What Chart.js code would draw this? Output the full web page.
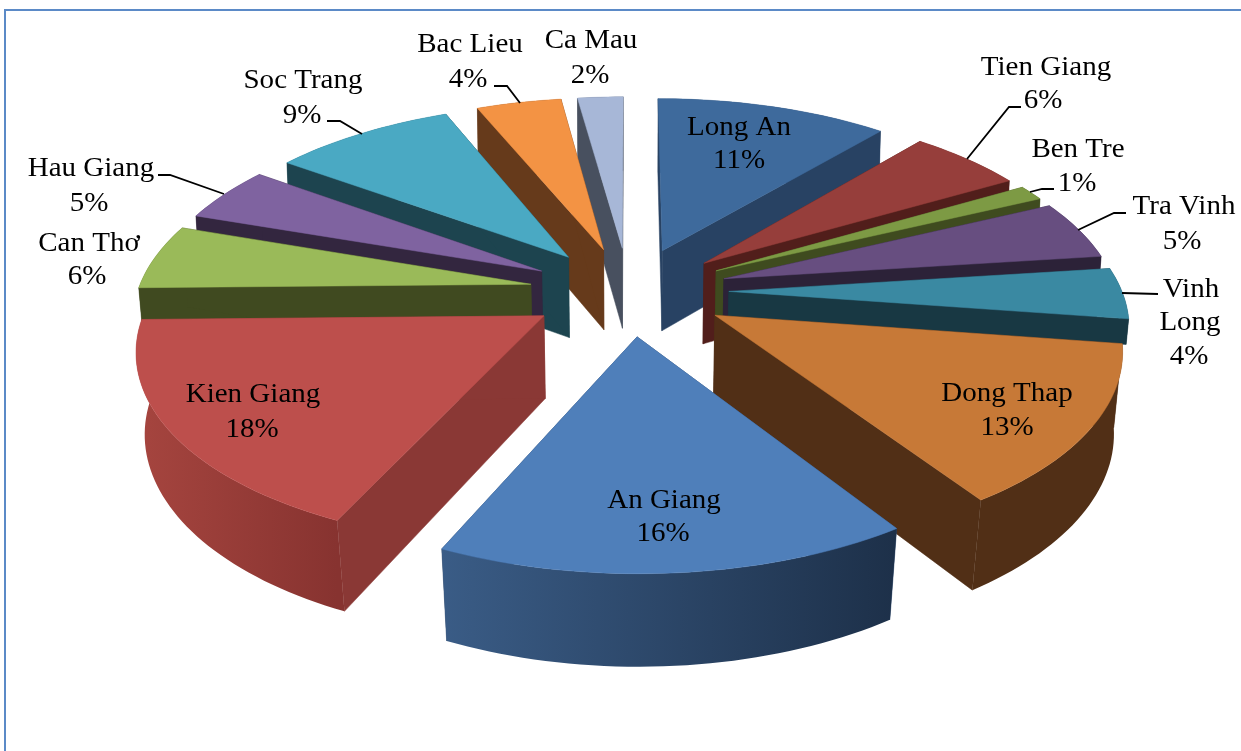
<!DOCTYPE html>
<html><head><meta charset="utf-8">
<style>html,body{margin:0;padding:0;background:#fff}canvas{display:block}</style>
<script src="https://cdn.jsdelivr.net/npm/chart.js@4"></script>
</head><body><canvas id="c" width="1241" height="751"></canvas>
<script>
const provinces = ['Long An','Tien Giang','Ben Tre','Tra Vinh','Vinh Long','Dong Thap','An Giang','Kien Giang','Can Thơ','Hau Giang','Soc Trang','Bac Lieu','Ca Mau'];
const shares = [11.2,5.5,1.3,5.0,4.3,13.4,16.1,17.9,5.5,4.7,8.8,4.1,2.2];

const topColors  = ['#3e6a9c','#963e3b','#7d9a44','#674e80','#3a89a2','#c77937','#4f7fba','#bd4f4c','#9aba59','#7f63a0','#4aa9c3','#f39344','#a7b7d7'];
const edgeColors = ['#284263','#511e1b','#3f4b1f','#2c2238','#183843','#512f16','#2a4468','#8a3835','#404a20','#33263f','#1d444f','#663a1b','#48505f'];
const rimLeft    = ['#284263','#511e1b','#3f4b1f','#2c2238','#183843','#512f16','#3a5c86','#a6453f','#404a20','#33263f','#1d444f','#663a1b','#48505f'];
const rimRight   = ['#284263','#511e1b','#3f4b1f','#2c2238','#183843','#512f16','#1d3049','#873330','#404a20','#33263f','#1d444f','#663a1b','#48505f'];
const wallScale  = [1,1,1,1,0.31,1,1,1,1,1,1,1,1];

// label text anchors: [text, centre x, baseline y] per line, and leader lines
const labelLines = [
  [['Long An',739,135],['%',739,168]],
  [['Tien Giang',1046,75],['%',1043,108]],
  [['Ben Tre',1078,157],['%',1077,191]],
  [['Tra Vinh',1184,214],['%',1182,249]],
  [['Vinh',1191,297],['Long',1190,330],['%',1189,364]],
  [['Dong Thap',1007,401],['%',1007,435]],
  [['An Giang',664,508],['%',663,541]],
  [['Kien Giang',253,402],['%',252,437]],
  [['Can Thơ',89,251],['%',87,284]],
  [['Hau Giang',91,176],['%',89,211]],
  [['Soc Trang',303,88],['%',302,123]],
  [['Bac Lieu',470,52],['%',468,87]],
  [['Ca Mau',591,48],['%',590,83]]
];
const leaders = [
  [[1021,107],[1009,107],[967,159]],
  [[1054,189],[1042,189],[1030,192]],
  [[1126,213],[1114,213],[1078,230]],
  [[1158,294],[1122,293]],
  [[158,175],[170,175],[224,194]],
  [[327,121],[340,121],[362,134]],
  [[494,86],[507,86],[520,103]]
];

// view of the pie plane
const VIEW = {sx:393/260, sy:186/260, persp:0.15, explodeX:1.065, shrinkMid:0.985, shrinkSlope:0.01/230, depth:81.7, depthSlope:0.04};

const pie3d = {
  id:'pie3d',
  beforeDatasetsDraw(chart){
    const ctx = chart.ctx;
    const arcs = chart.getDatasetMeta(0).data;
    const project = (arc,u,v)=>{
      const r = arc.outerRadius, s = 1/(1+VIEW.persp*v);
      return [arc.x + VIEW.sx*r*u*s, arc.y - VIEW.sy*r*v*s];
    };
    const lower = (arc,p,f)=>{
      const dy=p[1]-arc.y, sh=VIEW.shrinkMid-VIEW.shrinkSlope*dy;
      return [p[0]+(arc.x+(p[0]-arc.x)*sh-p[0])*f, p[1]+(VIEW.depth+VIEW.depthSlope*dy)*f];
    };
    const order = arcs.map((a,i)=>{
      const m=(a.startAngle+a.endAngle)/2+Math.PI/2;
      return {i,key:-Math.cos(m)};
    }).sort((a,b)=>a.key-b.key);
    const poly = pts=>{ctx.beginPath();pts.forEach((p,k)=>k?ctx.lineTo(p[0],p[1]):ctx.moveTo(p[0],p[1]));ctx.closePath();};
    for(const {i} of order){
      const a = arcs[i];
      const t0=a.startAngle+Math.PI/2, t1=a.endAngle+Math.PI/2, m=(t0+t1)/2;
      const e=a.options.offset/a.outerRadius;
      const ou=e*VIEW.explodeX*Math.sin(m), ov=e*Math.cos(m);
      const apex=project(a,ou,ov);
      const rim=[];const n=Math.max(4,Math.round((t1-t0)*40));
      for(let k=0;k<=n;k++){const t=t0+(t1-t0)*k/n;rim.push(project(a,ou+Math.sin(t),ov+Math.cos(t)));}
      const f=wallScale[i];
      const rimLow=rim.map(p=>lower(a,p,f)), apexLow=lower(a,apex,f);
      ctx.fillStyle=edgeColors[i];ctx.strokeStyle=edgeColors[i];ctx.lineWidth=0.5;
      poly([apex,rim[0],rimLow[0],apexLow]);ctx.fill();ctx.stroke();
      poly([apex,rim[n],rimLow[n],apexLow]);ctx.fill();ctx.stroke();
      const xs=rim.map(p=>p[0]);
      const g=ctx.createLinearGradient(Math.min(...xs),0,Math.max(...xs),0);
      g.addColorStop(0,rimLeft[i]);g.addColorStop(1,rimRight[i]);
      ctx.fillStyle=g;
      poly(rim.concat(rimLow.slice().reverse()));ctx.fill();
      ctx.fillStyle=a.options.backgroundColor;ctx.strokeStyle=a.options.backgroundColor;
      poly([apex].concat(rim));ctx.fill();ctx.stroke();
    }
    return false;
  },
  beforeDraw(chart){
    const ctx=chart.ctx;
    ctx.save();ctx.fillStyle='#fff';ctx.fillRect(0,0,chart.width,chart.height);
    ctx.strokeStyle='#5b8ac7';ctx.lineWidth=2;
    ctx.beginPath();ctx.moveTo(5,751);ctx.lineTo(5,10);ctx.lineTo(1241,10);ctx.stroke();
    ctx.restore();
  },
  afterDraw(chart){
    const ctx=chart.ctx;
    ctx.save();
    ctx.strokeStyle='#000';ctx.lineWidth=1.8;
    leaders.forEach(l=>{ctx.beginPath();l.forEach((p,k)=>k?ctx.lineTo(p[0],p[1]):ctx.moveTo(p[0],p[1]));ctx.stroke();});
    ctx.fillStyle='#000';ctx.font='27.5px "Liberation Serif"';ctx.textAlign='center';ctx.textBaseline='alphabetic';
    labelLines.forEach((lines,i)=>lines.forEach(([txt,x,y])=>{
      const s = txt==='%' ? Math.round(shares[i])+'%' : txt;
      ctx.save();ctx.translate(x,y);ctx.scale(1.055,1);ctx.fillText(s,0,0);ctx.restore();
    }));
    ctx.restore();
  }
};

new Chart(document.getElementById('c'),{
  type:'pie',
  data:{labels:provinces,datasets:[{data:shares,backgroundColor:topColors,borderWidth:0,offset:62}]},
  options:{responsive:false,animation:false,rotation:0,
    layout:{padding:{left:17,bottom:169}},
    plugins:{legend:{display:false},tooltip:{enabled:false}}},
  plugins:[pie3d]
});
</script></body></html>
